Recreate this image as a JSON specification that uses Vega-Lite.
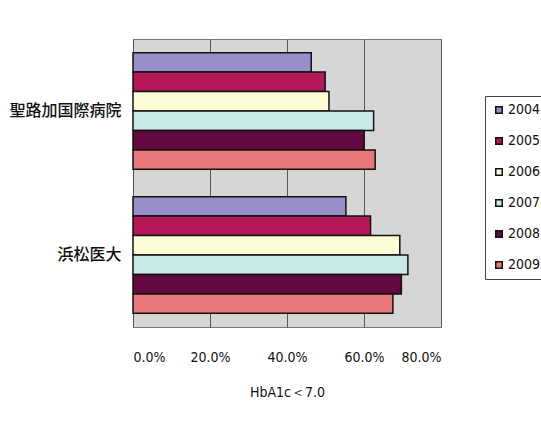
{
  "$schema": "https://vega.github.io/schema/vega-lite/v6.json",
  "autosize": "none",
  "width": 308,
  "height": 288,
  "padding": {"left": 133, "top": 39, "right": 100, "bottom": 117},
  "background": "#ffffff",
  "data": {
    "values": [
      {"hospital": "聖路加国際病院", "year": "2004", "value": 0.463},
      {"hospital": "聖路加国際病院", "year": "2005", "value": 0.499},
      {"hospital": "聖路加国際病院", "year": "2006", "value": 0.509},
      {"hospital": "聖路加国際病院", "year": "2007", "value": 0.625},
      {"hospital": "聖路加国際病院", "year": "2008", "value": 0.600},
      {"hospital": "聖路加国際病院", "year": "2009", "value": 0.629},
      {"hospital": "浜松医大", "year": "2004", "value": 0.553},
      {"hospital": "浜松医大", "year": "2005", "value": 0.617},
      {"hospital": "浜松医大", "year": "2006", "value": 0.693},
      {"hospital": "浜松医大", "year": "2007", "value": 0.714},
      {"hospital": "浜松医大", "year": "2008", "value": 0.697},
      {"hospital": "浜松医大", "year": "2009", "value": 0.675}
    ]
  },
  "mark": {"type": "bar", "stroke": "#111111", "strokeWidth": 1.5, "strokeJoin": "miter"},
  "encoding": {
    "y": {
      "field": "hospital",
      "type": "nominal",
      "sort": ["聖路加国際病院", "浜松医大"],
      "scale": {"paddingInner": 0.19, "paddingOuter": 0.095},
      "axis": {
        "title": null,
        "ticks": false,
        "domain": false,
        "labelPadding": 12,
        "labelFont": "Noto Sans CJK JP",
        "labelFontSize": 16,
        "labelFontWeight": 500,
        "labelColor": "#111111"
      }
    },
    "yOffset": {
      "field": "year",
      "type": "nominal",
      "scale": {"paddingInner": 0, "paddingOuter": 0}
    },
    "x": {
      "field": "value",
      "type": "quantitative",
      "scale": {"domain": [0, 0.8], "nice": false},
      "axis": {
        "values": [0, 0.2, 0.4, 0.6, 0.8],
        "format": ".1%",
        "grid": true,
        "gridColor": "#555555",
        "gridWidth": 1,
        "gridOpacity": 1,
        "ticks": false,
        "domain": false,
        "labelPadding": 23,
        "labelFont": "DejaVu Sans Condensed",
        "labelFontSize": 14,
        "labelColor": "#111111",
        "title": "HbA1c＜7.0",
        "titleFont": "DejaVu Sans Condensed",
        "titleFontSize": 14,
        "titleFontWeight": "normal",
        "titleColor": "#111111",
        "titlePadding": 21
      }
    },
    "fill": {
      "field": "year",
      "type": "nominal",
      "scale": {
        "domain": ["2004", "2005", "2006", "2007", "2008", "2009"],
        "range": ["#9a8ec8", "#b5195a", "#fdfdd5", "#c8e9e8", "#64093f", "#e8787a"]
      },
      "legend": {
        "title": null,
        "orient": "none",
        "legendX": 352,
        "legendY": 57,
        "symbolType": "square",
        "symbolSize": 42,
        "symbolStrokeColor": "#111111",
        "symbolStrokeWidth": 1.5,
        "labelFont": "DejaVu Sans Condensed",
        "labelFontSize": 14,
        "labelColor": "#111111",
        "labelOffset": 2,
        "rowPadding": 17,
        "padding": 7,
        "strokeColor": "#444444",
        "fillColor": "#ffffff"
      }
    }
  },
  "config": {
    "view": {"fill": "#d6d6d6", "stroke": "#777777", "strokeWidth": 1}
  }
}
